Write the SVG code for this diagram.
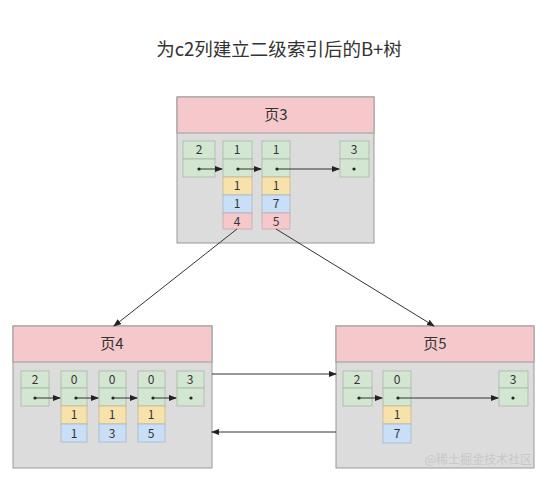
<svg xmlns="http://www.w3.org/2000/svg" width="546" height="481" viewBox="0 0 546 481">
<style>
text{font-family:"Noto Sans CJK SC","Noto Sans",sans-serif;fill:#333;}
.t{font-size:18.5px;text-anchor:middle;}
.h{font-size:15px;text-anchor:middle;}
.c{font-size:12px;text-anchor:middle;}
.page{fill:#dcdcdc;stroke:#9a9a9a;stroke-width:1;}
.head{fill:#f5c9cc;stroke:#9a9a9a;stroke-width:1;}
.g{fill:#d3e6d1;stroke:#a8b8a6;stroke-width:0.8;}
.y{fill:#f8e2ac;stroke:#c8b890;stroke-width:0.8;}
.b{fill:#c9dff7;stroke:#a6b6c8;stroke-width:0.8;}
.p{fill:#f5c9cc;stroke:#c8a8aa;stroke-width:0.8;}
.dot{fill:#222;}
.ln{stroke:#333;stroke-width:1;fill:none;}
.wm{font-size:12px;fill:#c8c8c8;text-anchor:end;}
</style>
<defs>
<marker id="ah" markerWidth="8" markerHeight="6" refX="7" refY="3" orient="auto" markerUnits="userSpaceOnUse">
<path d="M0,0 L8,3 L0,6 Z" fill="#222"/>
</marker>
</defs>
<rect width="546" height="481" fill="#ffffff"/>
<text class="t" x="279" y="56">为c2列建立二级索引后的B+树</text>

<g id="page3">
<rect class="page" x="177" y="97" width="197" height="146"/>
<rect class="head" x="177" y="97" width="197" height="36"/>
<text class="h" x="276" y="120">页3</text>
<rect class="g" x="183" y="141" width="32" height="18"/><rect class="g" x="183" y="159" width="32" height="18"/>
<text class="c" x="199" y="154">2</text>
<rect class="g" x="223" y="141" width="29" height="18"/><rect class="g" x="223" y="159" width="29" height="18"/>
<rect class="y" x="223" y="177" width="29" height="18"/><rect class="b" x="223" y="195" width="29" height="18"/><rect class="p" x="223" y="213" width="29" height="16"/>
<text class="c" x="237" y="154">1</text><text class="c" x="237" y="190">1</text><text class="c" x="237" y="208">1</text><text class="c" x="237" y="226">4</text>
<rect class="g" x="262" y="141" width="28" height="18"/><rect class="g" x="262" y="159" width="28" height="18"/>
<rect class="y" x="262" y="177" width="28" height="18"/><rect class="b" x="262" y="195" width="28" height="18"/><rect class="p" x="262" y="213" width="28" height="16"/>
<text class="c" x="276" y="154">1</text><text class="c" x="276" y="190">1</text><text class="c" x="276" y="208">7</text><text class="c" x="276" y="226">5</text>
<rect class="g" x="340" y="141" width="29" height="18"/><rect class="g" x="340" y="159" width="29" height="18"/>
<text class="c" x="354" y="154">3</text>
<circle class="dot" cx="199" cy="169" r="1.6"/><circle class="dot" cx="238" cy="169" r="1.6"/><circle class="dot" cx="277" cy="169" r="1.6"/><circle class="dot" cx="354" cy="169" r="1.6"/>
<line class="ln" x1="199" y1="169" x2="222" y2="169" marker-end="url(#ah)"/>
<line class="ln" x1="238" y1="169" x2="261" y2="169" marker-end="url(#ah)"/>
<line class="ln" x1="277" y1="169" x2="339" y2="169" marker-end="url(#ah)"/>
</g>

<g id="page4">
<rect class="page" x="13" y="326" width="199" height="142"/>
<rect class="head" x="13" y="326" width="199" height="36"/>
<text class="h" x="112" y="349">页4</text>
<rect class="g" x="21" y="371" width="28" height="17"/><rect class="g" x="21" y="388" width="28" height="18"/>
<text class="c" x="35" y="384">2</text>
<rect class="g" x="61" y="371" width="26" height="17"/><rect class="g" x="61" y="388" width="26" height="18"/>
<rect class="y" x="61" y="406" width="26" height="18"/><rect class="b" x="61" y="424" width="26" height="18"/>
<text class="c" x="74" y="384">0</text><text class="c" x="74" y="419">1</text><text class="c" x="74" y="438">1</text>
<rect class="g" x="99" y="371" width="27" height="17"/><rect class="g" x="99" y="388" width="27" height="18"/>
<rect class="y" x="99" y="406" width="27" height="18"/><rect class="b" x="99" y="424" width="27" height="18"/>
<text class="c" x="112" y="384">0</text><text class="c" x="112" y="419">1</text><text class="c" x="112" y="438">3</text>
<rect class="g" x="138" y="371" width="27" height="17"/><rect class="g" x="138" y="388" width="27" height="18"/>
<rect class="y" x="138" y="406" width="27" height="18"/><rect class="b" x="138" y="424" width="27" height="18"/>
<text class="c" x="151" y="384">0</text><text class="c" x="151" y="419">1</text><text class="c" x="151" y="438">5</text>
<rect class="g" x="177" y="371" width="27" height="17"/><rect class="g" x="177" y="388" width="27" height="18"/>
<text class="c" x="190" y="384">3</text>
<circle class="dot" cx="35" cy="398" r="1.6"/><circle class="dot" cx="76" cy="398" r="1.6"/><circle class="dot" cx="113" cy="398" r="1.6"/><circle class="dot" cx="153" cy="398" r="1.6"/><circle class="dot" cx="191" cy="398" r="1.6"/>
<line class="ln" x1="35" y1="398" x2="60" y2="398" marker-end="url(#ah)"/>
<line class="ln" x1="76" y1="398" x2="98" y2="398" marker-end="url(#ah)"/>
<line class="ln" x1="113" y1="398" x2="137" y2="398" marker-end="url(#ah)"/>
<line class="ln" x1="153" y1="398" x2="176" y2="398" marker-end="url(#ah)"/>
</g>

<g id="page5">
<rect class="page" x="336" y="326" width="198" height="142"/>
<rect class="head" x="336" y="326" width="198" height="36"/>
<text class="h" x="435" y="349">页5</text>
<rect class="g" x="343" y="371" width="29" height="17"/><rect class="g" x="343" y="388" width="29" height="18"/>
<text class="c" x="357" y="384">2</text>
<rect class="g" x="383" y="371" width="28" height="17"/><rect class="g" x="383" y="388" width="28" height="18"/>
<rect class="y" x="383" y="406" width="28" height="18"/><rect class="b" x="383" y="424" width="28" height="19"/>
<text class="c" x="397" y="384">0</text><text class="c" x="397" y="419">1</text><text class="c" x="397" y="438">7</text>
<rect class="g" x="499" y="371" width="29" height="17"/><rect class="g" x="499" y="388" width="29" height="18"/>
<text class="c" x="513" y="384">3</text>
<circle class="dot" cx="359" cy="398" r="1.6"/><circle class="dot" cx="398" cy="398" r="1.6"/><circle class="dot" cx="513" cy="398" r="1.6"/>
<line class="ln" x1="359" y1="398" x2="382" y2="398" marker-end="url(#ah)"/>
<line class="ln" x1="398" y1="398" x2="498" y2="398" marker-end="url(#ah)"/>
<text class="wm" x="532" y="464">@稀土掘金技术社区</text>
</g>

<g id="connectors">
<line class="ln" x1="237" y1="229" x2="114" y2="326" marker-end="url(#ah)"/>
<line class="ln" x1="276" y1="229" x2="434" y2="326" marker-end="url(#ah)"/>
<line class="ln" x1="212" y1="374" x2="336" y2="374" marker-end="url(#ah)"/>
<line class="ln" x1="336" y1="432" x2="212" y2="432" marker-end="url(#ah)"/>
</g>
</svg>
